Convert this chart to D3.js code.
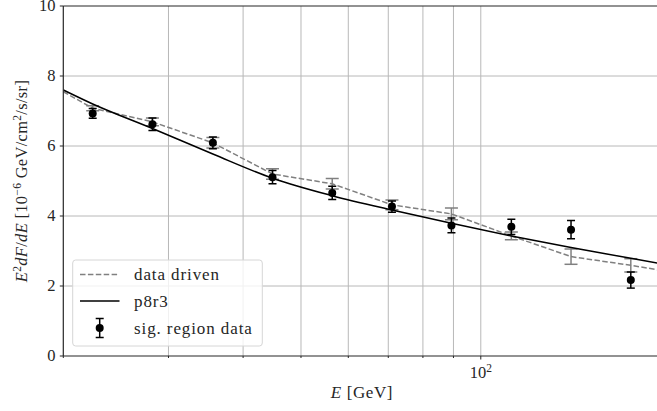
<!DOCTYPE html>
<html>
<head>
<meta charset="utf-8">
<script src="https://cdn.jsdelivr.net/npm/d3@7"></script>
<style>
  body { margin: 0; background: #fff; }
  svg text { font-family: "Liberation Serif", "DejaVu Serif", serif; fill: #262626; }
</style>
</head>
<body>
<div id="chart"></div>
<script>
// bin centres [GeV]
var energy = [22.4, 28.2, 35.6, 44.8, 56.4, 71.0, 89.3, 112.5, 141.6, 178.3];
// signal region data points
var sigValues = [6.93, 6.62, 6.09, 5.11, 4.66, 4.27, 3.73, 3.69, 3.61, 2.17];
var sigErrors = [0.14, 0.18, 0.165, 0.19, 0.19, 0.16, 0.21, 0.22, 0.26, 0.23];
// data driven estimate
var ddValues = [7.08, 6.69, 6.09, 5.20, 4.92, 4.32, 4.06, 3.43, 2.84, 2.59];
var ddErrors = [0.07, 0.11, 0.15, 0.15, 0.15, 0.14, 0.17, 0.11, 0.22, 0.19];
var ddEdgeE = [20, 200];
var ddEdgeV = [7.55, 2.45];
// p8r3 model curve
var modelE = [20, 22.4, 28.2, 35.6, 44.8, 56.4, 71.0, 89.3, 112.5, 141.6, 178.3, 200];
var modelV = [7.6, 7.2, 6.5, 5.77, 5.08, 4.58, 4.17, 3.79, 3.43, 3.1, 2.79, 2.64];
// ticks
var xTicks = [20, 30, 40, 50, 60, 70, 80, 90, 100, 200];
var yTicks = [0, 2, 4, 6, 8, 10];

var W = 657, H = 411;
var pLeft = 63.3, pRight = 660.6, pTop = 6, pBottom = 356;

var svg = d3.select("#chart").append("svg")
    .attr("width", W)
    .attr("height", H);

var x = d3.scaleLog().domain([20, 200]).range([pLeft, pRight]);
var y = d3.scaleLinear().domain([0, 10]).range([pBottom, pTop]);

svg.append("clipPath").attr("id", "clip")
  .append("rect")
    .attr("x", pLeft).attr("y", pTop)
    .attr("width", pRight - pLeft).attr("height", pBottom - pTop);

// grid
var grid = svg.append("g").attr("clip-path", "url(#clip)");
grid.selectAll(".vg")
    .data(xTicks.filter(function(d) { return d > 20 && d < 200; })).enter()
  .append("line")
    .attr("x1", function(d) { return x(d); })
    .attr("x2", function(d) { return x(d); })
    .attr("y1", pTop).attr("y2", pBottom)
    .style("stroke", "#b8b8b8").style("stroke-width", 1);
grid.selectAll(".hg")
    .data(yTicks.filter(function(d) { return d > 0 && d < 10; })).enter()
  .append("line")
    .attr("x1", pLeft).attr("x2", pRight)
    .attr("y1", function(d) { return y(d); })
    .attr("y2", function(d) { return y(d); })
    .style("stroke", "#b8b8b8").style("stroke-width", 1);

var plot = svg.append("g").attr("clip-path", "url(#clip)");

// data driven: dashed line + grey error bars
var ddE = [ddEdgeE[0]].concat(energy, [ddEdgeE[1]]);
var ddV = [ddEdgeV[0]].concat(ddValues, [ddEdgeV[1]]);
var ddLine = d3.line()
    .x(function(d, i) { return x(ddE[i]); })
    .y(function(d) { return y(d); });
plot.append("path")
    .datum(ddV)
    .attr("d", ddLine)
    .style("fill", "none")
    .style("stroke", "#808080")
    .style("stroke-width", 1.5)
    .style("stroke-dasharray", "5.5,2.4");

function errorBars(g, vals, errs, color, cap, width) {
  var eb = g.selectAll(null).data(vals).enter().append("g");
  eb.append("line")
      .attr("x1", function(d, i) { return x(energy[i]); })
      .attr("x2", function(d, i) { return x(energy[i]); })
      .attr("y1", function(d, i) { return y(d - errs[i]); })
      .attr("y2", function(d, i) { return y(d + errs[i]); });
  [-1, 1].forEach(function(s) {
    eb.append("line")
        .attr("x1", function(d, i) { return x(energy[i]) - cap; })
        .attr("x2", function(d, i) { return x(energy[i]) + cap; })
        .attr("y1", function(d, i) { return y(d + s * errs[i]); })
        .attr("y2", function(d, i) { return y(d + s * errs[i]); });
  });
  eb.selectAll("line").style("stroke", color).style("stroke-width", width);
}
errorBars(plot, ddValues, ddErrors, "#808080", 6.5, 1.5);

// p8r3 model
var modelLine = d3.line()
    .x(function(d, i) { return x(modelE[i]); })
    .y(function(d) { return y(d); })
    .curve(d3.curveMonotoneX);
plot.append("path")
    .datum(modelV)
    .attr("d", modelLine)
    .style("fill", "none")
    .style("stroke", "#000")
    .style("stroke-width", 1.5);

// signal region data
errorBars(plot, sigValues, sigErrors, "#000", 4, 1.5);
plot.selectAll(".dot")
    .data(sigValues).enter()
  .append("circle")
    .attr("cx", function(d, i) { return x(energy[i]); })
    .attr("cy", function(d) { return y(d); })
    .attr("r", 4)
    .style("fill", "#000");

// spines
[[pLeft, pTop, pLeft, pBottom], [pLeft, pBottom, pRight, pBottom], [pLeft, pTop, pRight, pTop], [pRight, pTop, pRight, pBottom]]
  .forEach(function(s) {
    svg.append("line")
      .attr("x1", s[0]).attr("y1", s[1]).attr("x2", s[2]).attr("y2", s[3])
      .style("stroke", "#262626").style("stroke-width", 1.2);
  });

// x ticks
svg.selectAll(".xt")
    .data(xTicks).enter()
  .append("line")
    .attr("x1", function(d) { return x(d); })
    .attr("x2", function(d) { return x(d); })
    .attr("y1", pBottom)
    .attr("y2", function(d) { return pBottom + (d === 100 ? 3.5 : 2); })
    .style("stroke", "#262626").style("stroke-width", 1);

var lab = svg.append("text")
    .attr("x", x(100))
    .attr("y", 378)
    .attr("text-anchor", "middle")
    .style("font-size", "16.5px");
lab.append("tspan").text("10");
lab.append("tspan").attr("dy", -6).style("font-size", "11.5px").text("2");

// y ticks
svg.selectAll(".yt")
    .data(yTicks).enter()
  .append("line")
    .attr("x1", pLeft - 3.5).attr("x2", pLeft)
    .attr("y1", function(d) { return y(d); })
    .attr("y2", function(d) { return y(d); })
    .style("stroke", "#262626").style("stroke-width", 1);
svg.selectAll(".yl")
    .data(yTicks).enter()
  .append("text")
    .attr("x", 55.5)
    .attr("y", function(d) { return y(d); })
    .attr("dy", "0.33em")
    .attr("text-anchor", "end")
    .style("font-size", "16.5px")
    .text(function(d) { return d; });

// axis labels
var xl = svg.append("text")
    .attr("x", (pLeft + pRight) / 2)
    .attr("y", 398)
    .attr("text-anchor", "middle")
    .style("font-size", "17px")
    .style("letter-spacing", "0.6px");
xl.append("tspan").style("font-style", "italic").text("E");
xl.append("tspan").text(" [GeV]");

var yl = svg.append("text")
    .attr("transform", "translate(27," + ((pTop + pBottom) / 2) + ") rotate(-90)")
    .attr("text-anchor", "middle")
    .style("font-size", "16.5px")
    .style("letter-spacing", "0.3px");
yl.append("tspan").style("font-style", "italic").text("E");
yl.append("tspan").attr("dy", -6).style("font-size", "11.5px").text("2");
yl.append("tspan").attr("dy", 6).style("font-style", "italic").text("dF");
yl.append("tspan").text("/");
yl.append("tspan").style("font-style", "italic").text("dE");
yl.append("tspan").text(" [10");
yl.append("tspan").attr("dy", -6).style("font-size", "11.5px").text("\u22126");
yl.append("tspan").attr("dy", 6).text(" GeV/cm");
yl.append("tspan").attr("dy", -6).style("font-size", "11.5px").text("2");
yl.append("tspan").attr("dy", 6).text("/s/sr]");

// legend
var lg = svg.append("g");
lg.append("rect")
    .attr("x", 72.7).attr("y", 260)
    .attr("width", 189.6).attr("height", 86)
    .attr("rx", 3)
    .style("fill", "#fff").style("fill-opacity", 0.8)
    .style("stroke", "#d6d6d6").style("stroke-width", 1);

var legendItems = ["data driven", "p8r3", "sig. region data"];
var legendY = [274.5, 301, 328];
lg.append("line")
    .attr("x1", 80).attr("x2", 119.5)
    .attr("y1", legendY[0]).attr("y2", legendY[0])
    .style("stroke", "#808080").style("stroke-width", 1.5)
    .style("stroke-dasharray", "5.5,2.4");
lg.append("line")
    .attr("x1", 80).attr("x2", 119.5)
    .attr("y1", legendY[1]).attr("y2", legendY[1])
    .style("stroke", "#000").style("stroke-width", 1.5);
var mk = lg.append("g").style("stroke", "#000").style("stroke-width", 1.5);
mk.append("line").attr("x1", 99.7).attr("x2", 99.7).attr("y1", legendY[2] - 9.5).attr("y2", legendY[2] + 9.5);
mk.append("line").attr("x1", 95.7).attr("x2", 103.7).attr("y1", legendY[2] - 9.5).attr("y2", legendY[2] - 9.5);
mk.append("line").attr("x1", 95.7).attr("x2", 103.7).attr("y1", legendY[2] + 9.5).attr("y2", legendY[2] + 9.5);
lg.append("circle").attr("cx", 99.7).attr("cy", legendY[2]).attr("r", 4).style("fill", "#000");

lg.selectAll(".lt")
    .data(legendItems).enter()
  .append("text")
    .attr("x", 134)
    .attr("y", function(d, i) { return legendY[i]; })
    .attr("dy", "0.35em")
    .style("font-size", "17px")
    .style("letter-spacing", "0.9px")
    .text(function(d) { return d; });
</script>
</body>
</html>
